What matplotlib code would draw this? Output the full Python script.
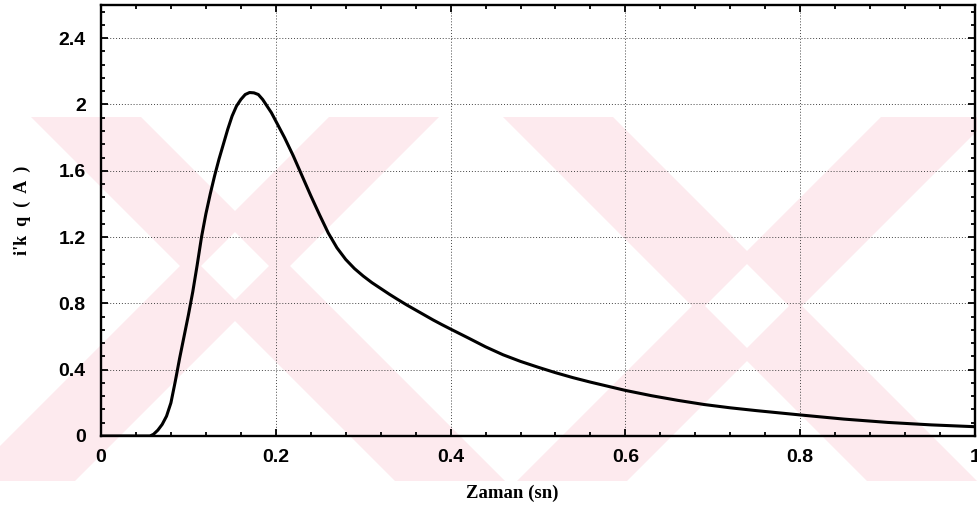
import matplotlib
matplotlib.use("Agg")
import matplotlib.pyplot as plt
from matplotlib.patches import Polygon
from matplotlib.ticker import MultipleLocator

# Current response i'kq (A) versus time (s)
time_s = [0.000, 0.050, 0.056, 0.060, 0.065, 0.070, 0.075, 0.080, 0.085, 0.090,
          0.095, 0.100, 0.105, 0.110, 0.115, 0.120, 0.125, 0.130, 0.135, 0.140,
          0.145, 0.150, 0.155, 0.160, 0.165, 0.170, 0.175, 0.180, 0.185, 0.190,
          0.195, 0.200, 0.210, 0.220, 0.230, 0.240, 0.250, 0.260, 0.270, 0.280,
          0.290, 0.300, 0.310, 0.320, 0.330, 0.340, 0.350, 0.360, 0.370, 0.380,
          0.390, 0.400, 0.420, 0.440, 0.460, 0.480, 0.500, 0.520, 0.540, 0.560,
          0.580, 0.600, 0.630, 0.660, 0.690, 0.720, 0.750, 0.800, 0.850, 0.900,
          0.950, 1.000]
current_a = [0.0, 0.0, 0.0, 0.01, 0.035, 0.07, 0.12, 0.20, 0.33, 0.47,
             0.60, 0.73, 0.87, 1.03, 1.20, 1.34, 1.46, 1.57, 1.67, 1.76,
             1.85, 1.93, 1.99, 2.03, 2.06, 2.072, 2.07, 2.06, 2.03, 1.99,
             1.95, 1.90, 1.80, 1.69, 1.57, 1.45, 1.335, 1.225, 1.135, 1.065,
             1.01, 0.965, 0.925, 0.89, 0.855, 0.822, 0.79, 0.76, 0.73, 0.70,
             0.672, 0.645, 0.592, 0.538, 0.49, 0.45, 0.415, 0.382, 0.352, 0.325,
             0.30, 0.275, 0.243, 0.215, 0.19, 0.17, 0.153, 0.127, 0.102, 0.082,
             0.067, 0.056]

x_ticks = [0, 0.2, 0.4, 0.6, 0.8, 1.0]
x_tick_labels = ["0", "0.2", "0.4", "0.6", "0.8", "1"]
y_ticks = [0, 0.4, 0.8, 1.2, 1.6, 2.0, 2.4]
y_tick_labels = ["0", "0.4", "0.8", "1.2", "1.6", "2", "2.4"]

W, H = 978, 509
fig = plt.figure(figsize=(W / 100, H / 100), dpi=100)
fig.patch.set_facecolor("white")

# faint background emblem drawn in pixel space (y grows downward)
bg = fig.add_axes([0, 0, 1, 1], zorder=0)
bg.set_xlim(0, W)
bg.set_ylim(H, 0)
bg.axis("off")
band_top, band_bot = 117, 481
pink = "#fdeaee"
half = 55
emblems = [(235, 266, 34), (747, 306, 42)]
for cx, cy, gap in emblems:
    for d in (1, -1):
        xt = cx + d * (band_top - cy)
        xb = cx + d * (band_bot - cy)
        bg.add_patch(Polygon([(xt - half, band_top), (xt + half, band_top),
                              (xb + half, band_bot), (xb - half, band_bot)],
                             closed=True, facecolor=pink, edgecolor="none"))
    bg.add_patch(Polygon([(cx, cy - gap), (cx + gap, cy), (cx, cy + gap), (cx - gap, cy)],
                         closed=True, facecolor="white", edgecolor="none"))
bg.add_patch(Polygon([(915, band_top), (W, band_top), (W, band_bot), (915, band_bot)],
                     closed=True, facecolor="white", edgecolor="none", zorder=0.5))

ax = fig.add_axes([101 / W, 1 - 436 / H, (975 - 101) / W, (436 - 5) / H], zorder=1)
ax.patch.set_alpha(0)

ax.plot(time_s, current_a, color="black", lw=2.2, solid_joinstyle="round",
        solid_capstyle="round", zorder=3)

ax.set_xlim(0, 1)
ax.set_ylim(0, 2.6)
ax.set_xticks(x_ticks)
ax.set_xticklabels(x_tick_labels)
ax.set_yticks(y_ticks)
ax.set_yticklabels(y_tick_labels)
ax.xaxis.set_minor_locator(MultipleLocator(0.04))
ax.yaxis.set_minor_locator(MultipleLocator(0.08))

ax.tick_params(which="both", direction="in", top=True, right=True, width=1.3, color="black")
ax.tick_params(which="major", length=5)
ax.tick_params(which="minor", length=3)
ax.tick_params(axis="x", which="major", pad=9)
ax.tick_params(axis="y", which="major", pad=11)
for lab in ax.get_xticklabels() + ax.get_yticklabels():
    lab.set_fontfamily("Liberation Sans")
    lab.set_fontweight("bold")
    lab.set_fontsize(14)

for s in ax.spines.values():
    s.set_linewidth(1.7)

ax.grid(True, which="major", color="#444444", linestyle=(0, (1, 2)), linewidth=0.7)

fig.text(512 / W, 1 - 493 / H, "Zaman (sn)", ha="center", va="center",
         family="Liberation Serif", fontweight="bold", fontsize=13.5)
fig.text(22 / W, 1 - 210 / H, "i'k  q  (  A  )", ha="center", va="center", rotation=90,
         family="Liberation Serif", fontweight="bold", fontsize=13)

fig.savefig("out.png", dpi=100, facecolor="white")
